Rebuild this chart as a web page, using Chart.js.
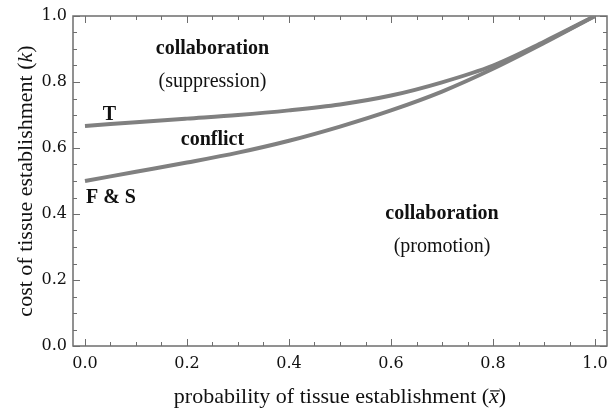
<!DOCTYPE html>
<html>
<head>
<meta charset="utf-8">
<script src="https://cdn.jsdelivr.net/npm/chart.js@4.4.1/dist/chart.umd.min.js"></script>
<style>
html,body{margin:0;padding:0;background:#fff;}
</style>
</head>
<body>
<canvas id="chart" width="613" height="410"></canvas>
<script>
// values
const xValues = [0, 0.1, 0.2, 0.3, 0.4, 0.5, 0.6, 0.7, 0.8, 0.9, 1.0];
const tCurve  = [0.667, 0.678, 0.689, 0.700, 0.714, 0.732, 0.759, 0.799, 0.850, 0.922, 1.0];
const fsCurve = [0.500, 0.528, 0.556, 0.586, 0.622, 0.665, 0.714, 0.771, 0.840, 0.918, 1.0];
const xTicks = [0, 0.2, 0.4, 0.6, 0.8, 1.0];
const yTicks = [0, 0.2, 0.4, 0.6, 0.8, 1.0];
const minorStep = 0.05;

const regionText  = ["collaboration", "(suppression)", "T", "conflict", "F & S", "collaboration", "(promotion)"];
const regionX     = [0.25, 0.25, 0.048, 0.25, 0.051, 0.70, 0.70];
const regionY     = [0.90, 0.80, 0.70, 0.626, 0.45, 0.40, 0.30];
const regionBold  = [true, false, true, true, true, true, false];

const serif = "'Liberation Serif', 'Times New Roman', serif";
const tickFont = "'DejaVu Serif', serif";
const frameColor = "#6e6e6e";

function toPoints(ys){
    return xValues.map((x,i)=>({x:x, y:ys[i]}));
}

function drawPieces(ctx, pieces, size){
    let total = 0;
    pieces.forEach(p=>{
        ctx.font = (p.italic ? "italic " : "") + size + "px " + serif;
        p.w = ctx.measureText(p.t).width;
        total += p.w;
    });
    let x = -total/2;
    pieces.forEach(p=>{
        ctx.font = (p.italic ? "italic " : "") + size + "px " + serif;
        ctx.fillText(p.t, x, 0);
        if(p.bar){
            ctx.beginPath();
            ctx.lineWidth = 1.2;
            ctx.moveTo(x+1, -size*0.55);
            ctx.lineTo(x+p.w+1, -size*0.55);
            ctx.stroke();
        }
        x += p.w;
    });
}

const framePlugin = {
    id:"frame",
    beforeDatasetsDraw(chart){
        const ctx = chart.ctx;
        const a = chart.chartArea;
        const xs = chart.scales.x, ys = chart.scales.y;
        ctx.save();
        ctx.strokeStyle = frameColor;
        ctx.lineWidth = 1.5;
        ctx.strokeRect(a.left, a.top, a.right-a.left, a.bottom-a.top);
        ctx.lineWidth = 1;
        for(let i=0;i<=20;i++){
            const v = i*minorStep;
            const major = i%4===0;
            const len = major ? 7 : 4;
            const px = Math.round(xs.getPixelForValue(v))+0.5;
            const py = Math.round(ys.getPixelForValue(v))+0.5;
            ctx.beginPath();
            ctx.moveTo(px, a.bottom); ctx.lineTo(px, a.bottom-len);
            ctx.moveTo(px, a.top); ctx.lineTo(px, a.top+len);
            ctx.moveTo(a.left, py); ctx.lineTo(a.left+len, py);
            ctx.moveTo(a.right, py); ctx.lineTo(a.right-len, py);
            ctx.stroke();
        }
        ctx.restore();
    },
    afterDatasetsDraw(chart){
        const ctx = chart.ctx;
        const a = chart.chartArea;
        const xs = chart.scales.x, ys = chart.scales.y;
        ctx.save();
        ctx.fillStyle = "#111";
        ctx.textAlign = "center";
        ctx.textBaseline = "middle";
        regionText.forEach((t,i)=>{
            ctx.font = (regionBold[i] ? "bold " : "") + "20px " + serif;
            ctx.fillText(t, xs.getPixelForValue(regionX[i]), ys.getPixelForValue(regionY[i]));
        });
        // axis titles
        ctx.textAlign = "left";
        ctx.textBaseline = "alphabetic";
        ctx.strokeStyle = "#111";
        ctx.save();
        ctx.translate((a.left+a.right)/2, 403);
        drawPieces(ctx, [{t:"probability of tissue establishment ("},{t:"x",italic:true,bar:true},{t:")"}], 22);
        ctx.restore();
        ctx.save();
        ctx.translate(32, (a.top+a.bottom)/2);
        ctx.rotate(-Math.PI/2);
        drawPieces(ctx, [{t:"cost of tissue establishment ("},{t:"k",italic:true},{t:")"}], 22);
        ctx.restore();
        ctx.restore();
    }
};

new Chart(document.getElementById("chart"),{
    type:"line",
    data:{
        datasets:[
            {label:"T", data:toPoints(tCurve)},
            {label:"F & S", data:toPoints(fsCurve)}
        ]
    },
    options:{
        responsive:false,
        animation:false,
        devicePixelRatio:1,
        layout:{padding:{top:16, right:6, left:0, bottom:0}},
        elements:{
            line:{borderColor:"#808080", borderWidth:4, cubicInterpolationMode:"monotone", fill:false},
            point:{radius:0}
        },
        plugins:{legend:{display:false}, tooltip:{enabled:false}},
        scales:{
            x:{
                type:"linear",
                min:-0.0235, max:1.0235,
                grid:{display:false, drawTicks:false}, border:{display:false},
                afterBuildTicks:s=>{ s.ticks = xTicks.map(v=>({value:v})); },
                afterFit:s=>{ s.height = 64; s.paddingLeft = 0; s.paddingRight = 0; },
                ticks:{padding:8, color:"#111", font:{family:tickFont, size:16}, callback:v=>v.toFixed(1), maxRotation:0}
            },
            y:{
                type:"linear",
                min:0, max:1,
                grid:{display:false, drawTicks:false}, border:{display:false},
                afterBuildTicks:s=>{ s.ticks = yTicks.map(v=>({value:v})); },
                afterFit:s=>{ s.width = 73; s.paddingTop = 0; s.paddingBottom = 0; },
                ticks:{padding:6, color:"#111", font:{family:tickFont, size:16}, callback:v=>v.toFixed(1)}
            }
        }
    },
    plugins:[framePlugin]
});
</script>
</body>
</html>
